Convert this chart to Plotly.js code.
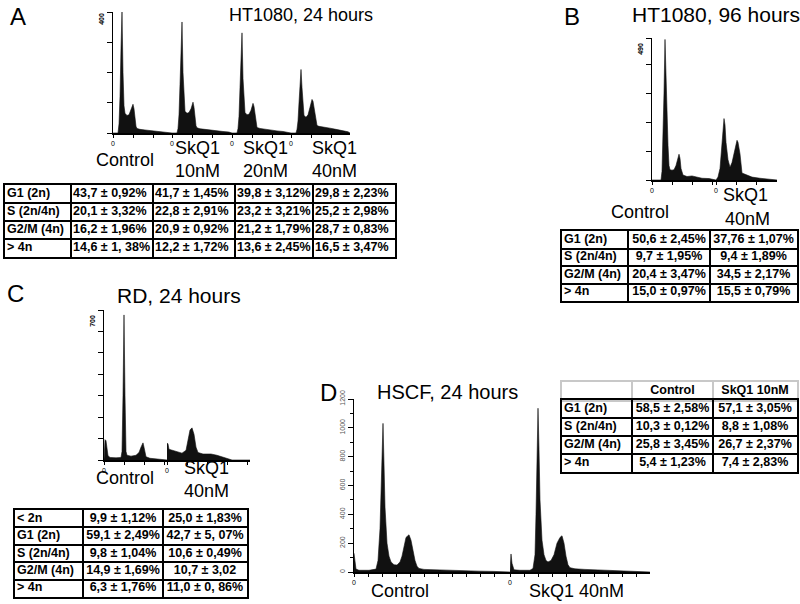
<!DOCTYPE html>
<html>
<head>
<meta charset="utf-8">
<script src="https://cdn.plot.ly/plotly-3.0.1.min.js"></script>
<style>
  html, body { margin: 0; padding: 0; background: #fff; }
  #grafico { width: 800px; height: 604px; }
</style>
</head>
<body>
<div id="grafico"></div>
<script>
// --- histogram data (channel, cell count) ---
// A: HT1080, 24 h
const aCtrlCh = [0, 5, 6, 7, 8, 9, 10, 11, 12, 14, 16, 18, 19, 20, 21, 22, 23, 24, 27, 32, 38, 44, 50, 56, 59];
const aCtrlN  = [0, 0, 30, 120, 280, 400, 200, 90, 65, 58, 60, 75, 88, 95, 80, 45, 22, 15, 12, 10, 8, 6, 5, 3, 0];
const a10Ch = [0, 5, 6, 7, 8, 9, 10, 11, 12, 13, 15, 17, 19, 20, 21, 22, 23, 24, 25, 28, 33, 39, 45, 51, 57, 60];
const a10N  = [0, 0, 15, 60, 160, 300, 367, 200, 100, 72, 65, 68, 80, 95, 102, 85, 50, 24, 17, 14, 12, 9, 7, 5, 3, 0];
const a20Ch = [0, 5, 6, 7, 8, 9, 10, 11, 12, 13, 15, 17, 19, 20, 21, 22, 23, 24, 25, 28, 33, 39, 45, 51, 57, 59];
const a20N  = [0, 0, 15, 55, 150, 270, 331, 180, 95, 68, 60, 62, 75, 90, 98, 88, 60, 28, 18, 15, 12, 9, 7, 5, 3, 0];
const a40Ch = [0, 5, 6, 7, 8, 9, 10, 11, 12, 13, 15, 17, 19, 20, 21, 22, 23, 24, 25, 26, 28, 33, 39, 45, 51, 57, 59];
const a40N  = [0, 0, 12, 40, 100, 170, 210, 150, 80, 58, 52, 60, 85, 102, 111, 105, 85, 55, 35, 25, 22, 20, 16, 12, 8, 4, 0];
// B: HT1080, 96 h
const bCtrlCh = [0, 9, 10, 11, 12, 13, 14, 15, 16, 17, 18, 20, 22, 24, 26, 27, 28, 29, 31, 35, 40, 44, 50, 57, 62, 64];
const bCtrlN  = [0, 0, 30, 150, 300, 485, 330, 215, 120, 50, 35, 34, 35, 50, 75, 89, 75, 40, 17, 12, 14, 10, 6, 5, 3, 0];
const b40Ch = [0, 1, 2, 4, 6, 8, 9, 10, 12, 14, 16, 18, 20, 21, 22, 24, 26, 30, 36, 44, 52, 58, 61];
const b40N  = [0, 8, 10, 40, 120, 212, 190, 130, 70, 44, 60, 95, 125, 137, 130, 90, 24, 18, 10, 6, 3, 1, 0];
// C: RD, 24 h
const cCtrlCh = [0, 1, 2, 3, 4, 6, 12, 17, 18, 19, 20, 21, 22, 23, 27, 32, 35, 37, 39, 40, 42, 46, 52, 60, 63];
const cCtrlN  = [0, 95, 90, 50, 20, 12, 10, 12, 40, 300, 677, 300, 40, 22, 18, 22, 35, 60, 80, 60, 15, 8, 5, 3, 0];
const c40Ch = [0, 1, 2, 4, 9, 15, 19, 21, 23, 25, 27, 29, 31, 36, 44, 50, 56, 61, 65, 83];
const c40N  = [80, 75, 50, 47, 40, 32, 45, 90, 140, 150, 120, 60, 35, 28, 28, 22, 12, 3, 0, 0];
// D: HSCF, 24 h
const dCtrlCh = [0, 1, 2, 5, 15, 22, 24, 26, 28, 29, 30, 31, 33, 35, 37, 40, 43, 46, 48, 50, 52, 55, 57, 59, 61, 63, 65, 70, 80, 90, 100, 110, 125, 140, 150, 156];
const dCtrlN  = [130, 60, 20, 12, 12, 20, 80, 300, 700, 1031, 750, 450, 200, 110, 70, 50, 48, 70, 110, 180, 240, 258, 220, 150, 80, 40, 25, 18, 15, 12, 10, 8, 6, 4, 2, 0];
const dSkqCh = [0, 1, 2, 4, 10, 20, 23, 25, 26, 27, 28, 29, 30, 32, 34, 36, 38, 41, 44, 47, 50, 52, 54, 56, 58, 60, 65, 75, 90, 105, 120, 135, 140];
const dSkqN  = [5, 125, 60, 15, 12, 12, 25, 120, 400, 800, 1136, 850, 500, 220, 120, 80, 70, 80, 120, 200, 240, 251, 200, 110, 50, 30, 22, 18, 14, 10, 8, 4, 0];
// G1 / G2 peak markers in D
const dCtrlPicos = [29, 55];
const dSkqPicos = [28, 52];

// --- tables ---
const fasesA = ['G1 (2n)', 'S (2n/4n)', 'G2/M (4n)', '> 4n'];
const aCtrlTxt = ['43,7 ± 0,92%', '20,1 ± 3,32%', '16,2 ± 1,96%', '14,6 ± 1, 38%'];
const a10Txt = ['41,7 ± 1,45%', '22,8 ± 2,91%', '20,9 ± 0,92%', '12,2 ± 1,72%'];
const a20Txt = ['39,8 ± 3,12%', '23,2 ± 3,21%', '21,2 ± 1,79%', '13,6 ± 2,45%'];
const a40Txt = ['29,8 ± 2,23%', '25,2 ± 2,98%', '28,7 ± 0,83%', '16,5 ± 3,47%'];

const bCtrlTxt = ['50,6 ± 2,45%', '9,7 ± 1,95%', '20,4 ± 3,47%', '15,0 ± 0,97%'];
const b40Txt = ['37,76 ± 1,07%', '9,4 ± 1,89%', '34,5 ± 2,17%', '15,5 ± 0,79%'];

const fasesC = ['&lt; 2n', 'G1 (2n)', 'S (2n/4n)', 'G2/M (4n)', '> 4n'];
const cCtrlTxt = ['9,9 ± 1,12%', '59,1 ± 2,49%', '9,8 ± 1,04%', '14,9 ± 1,69%', '6,3 ± 1,76%'];
const c40Txt = ['25,0 ± 1,83%', '42,7 ± 5, 07%', '10,6 ± 0,49%', '10,7 ± 3,02', '11,0 ± 0, 86%'];

const cabecalhoD = ['', 'Control', 'SkQ1 10nM'];
const dCtrlTxt = ['58,5 ± 2,58%', '10,3 ± 0,12%', '25,8 ± 3,45%', '5,4 ± 1,23%'];
const d10Txt = ['57,1 ± 3,05%', '8,8 ± 1,08%', '26,7 ± 2,37%', '7,4 ± 2,83%'];

const FONTE = 'Arial, "Liberation Sans", sans-serif';
const W = 800, H = 604;

function px(x) { return x / W; }
function py(y) { return 1 - y / H; }

function histo(ch, n, xa, ya) {
    return {
        x: ch, y: n, xaxis: xa, yaxis: ya,
        type: 'scatter', mode: 'lines', fill: 'tozeroy',
        fillcolor: '#111', line: { color: '#111', width: 0.6 },
        hoverinfo: 'skip'
    };
}

function picos(ch, xa, ya) {
    return {
        x: ch, y: ch.map(() => -22), xaxis: xa, yaxis: ya,
        type: 'scatter', mode: 'markers', cliponaxis: false,
        marker: { symbol: 'triangle-up', size: 8, color: '#000' },
        hoverinfo: 'skip'
    };
}

function eixoX(esq, dir, ancora, passo) {
    const largura = dir - esq;
    const vals = [], txt = [];
    for (let v = 0; v < largura - 2; v += passo) {
        vals.push(v);
        txt.push(v === 0 ? '0' : '');
    }
    return {
        domain: [px(esq), px(dir)], range: [0, largura], anchor: ancora,
        showline: true, linecolor: '#000', linewidth: 1.5,
        ticks: 'outside', ticklen: 3, tickcolor: '#000', tickwidth: 1,
        tickvals: vals, ticktext: txt,
        tickfont: { family: FONTE, size: 7, color: '#000' },
        showgrid: false, zeroline: false, fixedrange: true
    };
}

function eixoY(topo, base, ancora, max, vals, txt, desloc, extra) {
    const e = {
        domain: [py(base), py(topo)], range: [0, max], anchor: ancora,
        showline: true, linecolor: '#000', linewidth: 1.5,
        ticks: 'outside', ticklen: 5, tickcolor: '#000', tickwidth: 1,
        tickvals: vals, ticktext: txt, tickangle: -90,
        ticklabelshift: desloc,
        tickfont: { family: FONTE, size: 7, color: '#000', weight: 'bold' },
        showgrid: false, zeroline: false, fixedrange: true
    };
    return Object.assign(e, extra || {});
}

// tabela = subplot próprio: grade do eixo faz as bordas, texto em scatter
function eixoTabX(esq, limites, ancora, cor) {
    const largura = limites[limites.length - 1];
    return {
        domain: [px(esq), px(esq + largura)], range: [0, largura], anchor: ancora,
        tickvals: limites, showticklabels: false, ticks: '',
        showgrid: true, gridcolor: cor, gridwidth: 2,
        showline: true, mirror: true, linecolor: cor, linewidth: 2,
        zeroline: false, fixedrange: true
    };
}

function eixoTabY(topo, linhas, altura, ancora, cor) {
    const vals = [];
    for (let i = 0; i <= linhas; i++) vals.push(i);
    return {
        domain: [py(topo + linhas * altura), py(topo)], range: [linhas, 0], anchor: ancora,
        tickvals: vals, showticklabels: false, ticks: '',
        showgrid: true, gridcolor: cor, gridwidth: 2,
        showline: true, mirror: true, linecolor: cor, linewidth: 2,
        zeroline: false, fixedrange: true
    };
}

function tabela(colunas, limites, alinhar, xa, ya) {
    return colunas.map((col, j) => {
        const esquerda = alinhar[j] === 'left';
        const xTexto = esquerda ? limites[j] + 2 : (limites[j] + limites[j + 1]) / 2;
        return {
            x: col.map(() => xTexto), y: col.map((_, i) => i + 0.5),
            text: col, xaxis: xa, yaxis: ya,
            type: 'scatter', mode: 'text', cliponaxis: false,
            textposition: esquerda ? 'middle right' : 'middle center',
            textfont: { family: FONTE, size: 12.5, color: '#000', weight: 'bold' },
            hoverinfo: 'skip'
        };
    });
}

const limA = [0, 66, 148, 230, 308, 390];
const limB = [0, 66, 148, 235];
const limC = [0, 68, 148, 232];
const limD = [0, 70, 151, 235];

const data = [
    histo(aCtrlCh, aCtrlN, 'x', 'y'),
    histo(a10Ch, a10N, 'x2', 'y'),
    histo(a20Ch, a20N, 'x3', 'y'),
    histo(a40Ch, a40N, 'x4', 'y'),
    histo(bCtrlCh, bCtrlN, 'x5', 'y2'),
    histo(b40Ch, b40N, 'x6', 'y2'),
    histo(cCtrlCh, cCtrlN, 'x7', 'y3'),
    histo(c40Ch, c40N, 'x8', 'y3'),
    histo(dCtrlCh, dCtrlN, 'x9', 'y4'),
    histo(dSkqCh, dSkqN, 'x10', 'y4'),
    picos(dCtrlPicos, 'x9', 'y4'),
    picos(dSkqPicos, 'x10', 'y4'),
    ...tabela([fasesA, aCtrlTxt, a10Txt, a20Txt, a40Txt], limA, ['left', 'left', 'left', 'left', 'left'], 'x11', 'y5'),
    ...tabela([fasesA, bCtrlTxt, b40Txt], limB, ['left', 'center', 'center'], 'x12', 'y6'),
    ...tabela([fasesC, cCtrlTxt, c40Txt], limC, ['left', 'center', 'center'], 'x13', 'y7'),
    ...tabela(cabecalhoD.map(t => [t]), limD, ['left', 'center', 'center'], 'x14', 'y8'),
    ...tabela([fasesA, dCtrlTxt, d10Txt], limD, ['left', 'center', 'center'], 'x15', 'y9')
];

function rotulo(texto, x, y, tam, ancora) {
    return {
        text: texto, xref: 'paper', yref: 'paper', x: px(x), y: py(y),
        xanchor: ancora || 'center', yanchor: 'middle', showarrow: false,
        font: { family: FONTE, size: tam, color: '#000' }
    };
}

const annotations = [
    rotulo('A', 8, 16, 24, 'left'),
    rotulo('HT1080, 24 hours', 227, 15, 18, 'left'),
    rotulo('Control', 125, 160, 18),
    rotulo('SkQ1', 197, 148, 18), rotulo('10nM', 197, 171, 18),
    rotulo('SkQ1', 265, 148, 18), rotulo('20nM', 265, 171, 18),
    rotulo('SkQ1', 334, 148, 18), rotulo('40nM', 334, 171, 18),
    rotulo('B', 562, 16, 24, 'left'),
    rotulo('HT1080, 96 hours', 630, 15, 21, 'left'),
    rotulo('Control', 640, 212, 18),
    rotulo('SkQ1', 745, 195, 18), rotulo('40nM', 747, 219, 18),
    rotulo('C', 5, 294, 24, 'left'),
    rotulo('RD, 24 hours', 115, 295, 21, 'left'),
    rotulo('Control', 125, 478, 18),
    rotulo('SkQ1', 207, 468, 18), rotulo('40nM', 207, 491, 18),
    rotulo('D', 318, 392, 24, 'left'),
    rotulo('HSCF, 24 hours', 375, 392, 20, 'left'),
    rotulo('Control', 400, 591, 18),
    rotulo('SkQ1 40nM', 527, 591, 18, 'left')
];

const layout = {
    width: W, height: H,
    margin: { l: 0, r: 0, t: 0, b: 0 },
    paper_bgcolor: '#fff', plot_bgcolor: 'rgba(0,0,0,0)',
    showlegend: false,
    font: { family: FONTE, color: '#000' },
    xaxis: eixoX(113, 172, 'y', 20),
    xaxis2: eixoX(172, 232, 'y', 20),
    xaxis3: eixoX(232, 291, 'y', 20),
    xaxis4: eixoX(291, 350, 'y', 20),
    xaxis5: eixoX(652, 716, 'y2', 20),
    xaxis6: eixoX(716, 777, 'y2', 20),
    xaxis7: eixoX(104, 167, 'y3', 20),
    xaxis8: eixoX(167, 250, 'y3', 20),
    xaxis9: eixoX(354, 510, 'y4', 14),
    xaxis10: eixoX(510, 650, 'y4', 14),
    yaxis: eixoY(12, 133, 'x', 400, [0, 100, 200, 300, 400], ['', '', '', '', '400'], 8),
    yaxis2: eixoY(38, 180, 'x5', 490, [0, 100, 200, 300, 400, 490], ['', '', '', '', '', '490'], 12),
    yaxis3: eixoY(310, 460, 'x7', 700, [0, 100, 200, 300, 400, 500, 600, 700], ['', '', '', '', '', '', '', '700'], 12),
    yaxis4: eixoY(399, 572, 'x9', 1200, [0, 200, 400, 600, 800, 1000, 1200], ['0', '200', '400', '600', '800', '1000', '1200'], 0,
        { tickfont: { family: FONTE, size: 7, color: '#555' }, minor: { ticks: 'outside', ticklen: 3, dtick: 100, tickcolor: '#000' } }),
    xaxis11: eixoTabX(5, limA, 'y5', '#000'),
    yaxis5: eixoTabY(185, 4, 18, 'x11', '#000'),
    xaxis12: eixoTabX(562, limB, 'y6', '#000'),
    yaxis6: eixoTabY(231, 4, 17.5, 'x12', '#000'),
    xaxis13: eixoTabX(15, limC, 'y7', '#000'),
    yaxis7: eixoTabY(510, 5, 17.4, 'x13', '#000'),
    xaxis14: eixoTabX(562, limD, 'y8', '#c8c8c8'),
    yaxis8: eixoTabY(382, 1, 18, 'x14', '#c8c8c8'),
    xaxis15: eixoTabX(562, limD, 'y9', '#000'),
    yaxis9: eixoTabY(400, 4, 18, 'x15', '#000'),
    annotations: annotations
};

Plotly.newPlot('grafico', data, layout, { displayModeBar: false, staticPlot: true });
</script>
</body>
</html>
